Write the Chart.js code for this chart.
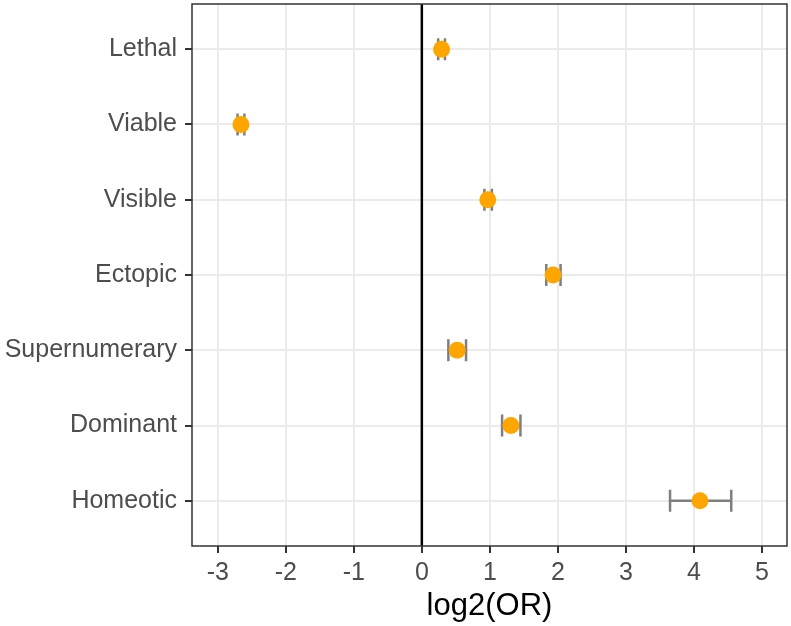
<!DOCTYPE html>
<html>
<head>
<meta charset="utf-8">
<script src="https://cdn.jsdelivr.net/npm/chart.js@4/dist/chart.umd.min.js"></script>
<style>
  html, body { margin: 0; padding: 0; background: #fff; }
</style>
</head>
<body>
<canvas id="canvas" width="791" height="626"></canvas>
<script>
const categories = ["Lethal", "Viable", "Visible", "Ectopic", "Supernumerary", "Dominant", "Homeotic"];
const log2OR = [0.29, -2.66, 0.97, 1.93, 0.52, 1.31, 4.09];
const lower = [0.24, -2.71, 0.92, 1.83, 0.39, 1.18, 3.65];
const upper = [0.34, -2.61, 1.03, 2.04, 0.65, 1.45, 4.55];
const xTicks = [-3, -2, -1, 0, 1, 2, 3, 4, 5];

Chart.defaults.font.family = "'Liberation Sans', Arial, sans-serif";

// whiskers with caps, drawn under the points
const errorBars = {
	id: "errorBars",
	beforeDatasetsDraw(chart) {
		const { ctx, scales: { x, y } } = chart;
		ctx.save();
		ctx.strokeStyle = "#7F7F7F";
		ctx.lineWidth = 2.5;
		categories.forEach((_c, i) => {
			const py = y.getPixelForValue(i + 1);
			const x0 = x.getPixelForValue(lower[i]);
			const x1 = x.getPixelForValue(upper[i]);
			ctx.beginPath();
			ctx.moveTo(x0, py); ctx.lineTo(x1, py);
			ctx.moveTo(x0, py - 11); ctx.lineTo(x0, py + 11);
			ctx.moveTo(x1, py - 11); ctx.lineTo(x1, py + 11);
			ctx.stroke();
		});
		ctx.restore();
	},
};

const panelBorder = {
	id: "panelBorder",
	afterDraw(chart) {
		const { ctx, chartArea: a } = chart;
		ctx.save();
		ctx.strokeStyle = "#333333";
		ctx.lineWidth = 1.5;
		ctx.strokeRect(a.left, a.top, a.right - a.left, a.bottom - a.top);
		ctx.restore();
	},
};

const points = categories.map((_c, i) => ({ x: log2OR[i], y: i + 1 }));

new Chart(document.getElementById("canvas").getContext("2d"), {
	type: "scatter",
	data: {
		datasets: [
			{
				label: "log2(OR)",
				data: points,
				pointRadius: 8.5,
				pointBackgroundColor: "#FFA500",
				pointBorderColor: "#FFA500",
				pointBorderWidth: 0,
				order: 0,
			},
			{
				type: "line",
				label: "zero",
				data: [{ x: 0, y: 0.4 }, { x: 0, y: 7.6 }],
				borderColor: "#000000",
				borderWidth: 2.5,
				pointRadius: 0,
				order: 1,
			},
		],
	},
	options: {
		responsive: false,
		animation: false,
		layout: { autoPadding: false, padding: { top: 4, right: 4, left: 0, bottom: 0 } },
		plugins: { legend: { display: false }, tooltip: { enabled: false } },
		scales: {
			x: {
				type: "linear",
				min: -3.38,
				max: 5.37,
				afterBuildTicks: (s) => { s.ticks = xTicks.map((v) => ({ value: v })); },
				afterFit: (s) => { s.height = 80; s.paddingLeft = 0; s.paddingRight = 0; },
				grid: { color: "#EBEBEB", lineWidth: 2, tickColor: "#333333", tickWidth: 2, tickLength: 7 },
				border: { display: false },
				ticks: { color: "#4D4D4D", font: { size: 25 }, padding: 5, maxRotation: 0 },
				title: { display: true, text: "log2(OR)", color: "#000000", font: { size: 31 }, padding: { top: 0, bottom: 1 } },
			},
			y: {
				type: "linear",
				reverse: true,
				min: 0.4,
				max: 7.6,
				afterBuildTicks: (s) => { s.ticks = categories.map((_c, i) => ({ value: i + 1 })); },
				afterFit: (s) => { s.width = 192; s.paddingTop = 0; s.paddingBottom = 0; },
				grid: { color: "#EBEBEB", lineWidth: 2, tickColor: "#333333", tickWidth: 2, tickLength: 7 },
				border: { display: false },
				ticks: { color: "#4D4D4D", font: { size: 25 }, padding: 8, callback: (v) => categories[v - 1] },
			},
		},
	},
	plugins: [errorBars, panelBorder],
});
</script>
</body>
</html>
